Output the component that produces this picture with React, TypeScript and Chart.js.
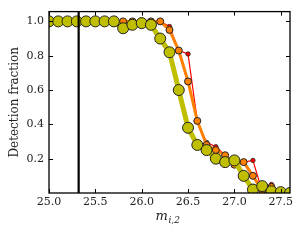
import { useEffect, useRef } from "react";
import { Chart, registerables } from "chart.js";

Chart.register(...registerables);

const MAGS = [
  25.0, 25.1, 25.2, 25.3, 25.4, 25.5, 25.6, 25.7, 25.8, 25.9, 26.0, 26.1, 26.2, 26.3,
  26.4, 26.5, 26.6, 26.7, 26.8, 26.9, 27.0, 27.1, 27.2, 27.3, 27.4, 27.5, 27.6,
];
const GREEN = [
  1, 1, 1, 1, 1, 1, 1, 1, 0.96, 0.98, 0.99, 0.98, 0.9, 0.82,
  0.6, 0.38, 0.28, 0.25, 0.2, 0.18, 0.19, 0.1, 0.02, 0.04, 0.01, 0.005, 0,
];
const ORANGE = [
  1, 1, 1, 1, 1, 1, 1, 1, 1, 1, 1, 1, 1, 0.95,
  0.83, 0.65, 0.42, 0.28, 0.25, 0.22, 0.165, 0.18, 0.1, 0.015, 0.035, 0, 0,
];
const RED = [
  1, 1, 1, 1, 1, 1, 1, 1, 1, 1, 1, 1, 1, 0.97,
  0.83, 0.81, 0.42, 0.295, 0.27, 0.22, 0.165, 0.18, 0.19, 0.01, 0.05, 0, 0,
];
const VLINE_X = 25.32;
const X_TICKS = [25.0, 25.5, 26.0, 26.5, 27.0, 27.5];
const Y_TICKS = [0.2, 0.4, 0.6, 0.8, 1.0];
const X_LABEL_MAIN = "m";
const X_LABEL_SUB = "i,2";
const Y_LABEL = "Detection fraction";

const SERIF = "'DejaVu Serif', serif";

const framePlugin = {
  id: "frameTicks",
  afterDatasetsDraw(chart: any) {
    const { ctx, chartArea, scales } = chart;
    const { left, right, top, bottom } = chartArea;
    ctx.save();
    ctx.strokeStyle = "#000";
    ctx.lineWidth = 1;
    const len = 4;
    ctx.beginPath();
    X_TICKS.forEach((v) => {
      const x = Math.round(scales.x.getPixelForValue(v)) + 0.5;
      ctx.moveTo(x, bottom);
      ctx.lineTo(x, bottom - len);
      ctx.moveTo(x, top);
      ctx.lineTo(x, top + len);
    });
    Y_TICKS.forEach((v) => {
      const y = Math.round(scales.y.getPixelForValue(v)) + 0.5;
      ctx.moveTo(left, y);
      ctx.lineTo(left + len, y);
      ctx.moveTo(right, y);
      ctx.lineTo(right - len, y);
    });
    ctx.stroke();
    ctx.lineWidth = 1.3;
    ctx.strokeRect(left, top, right - left, bottom - top);
    // x-axis title with subscript
    const cx = (left + right) / 2;
    ctx.fillStyle = "#222";
    ctx.textBaseline = "alphabetic";
    ctx.textAlign = "left";
    ctx.font = `italic 13px ${SERIF}`;
    const mW = ctx.measureText(X_LABEL_MAIN).width;
    ctx.font = `italic 9px ${SERIF}`;
    const sW = ctx.measureText(X_LABEL_SUB).width;
    const startX = cx - 2 - (mW + sW) / 2;
    ctx.font = `italic 13px ${SERIF}`;
    ctx.fillText(X_LABEL_MAIN, startX, 220);
    ctx.font = `italic 9px ${SERIF}`;
    ctx.fillText(X_LABEL_SUB, startX + mW + 0.5, 223);
    ctx.restore();
  },
};

export default function App() {
  const ref = useRef<HTMLCanvasElement | null>(null);
  useEffect(() => {
    if (!ref.current) return;
    const mk = (ys: number[]) => MAGS.map((x, i) => ({ x, y: ys[i] }));
    const chart = new Chart(ref.current, {
      type: "line",
      data: {
        datasets: [
          {
            data: [
              { x: VLINE_X, y: -0.1 },
              { x: VLINE_X, y: 1.2 },
            ],
            borderColor: "#000",
            borderWidth: 2.2,
            pointRadius: 0,
            order: 0,
            clip: 0,
          },
          {
            data: mk(GREEN),
            borderColor: "#bfbf00",
            borderWidth: 5,
            pointRadius: 5.5,
            pointBackgroundColor: "#bfbf00",
            pointBorderColor: "#222",
            pointBorderWidth: 1,
            order: 1,
            clip: 0,
          },
          {
            data: mk(ORANGE),
            borderColor: "#ff8000",
            borderWidth: 3,
            pointRadius: 3.5,
            pointBackgroundColor: "#ff8000",
            pointBorderColor: "#222",
            pointBorderWidth: 1,
            order: 2,
            clip: 0,
          },
          {
            data: mk(RED),
            borderColor: "#ff0000",
            borderWidth: 1.2,
            pointRadius: 2.2,
            pointBackgroundColor: "#ff0000",
            pointBorderColor: "#222",
            pointBorderWidth: 0.8,
            order: 3,
            clip: 0,
          },
        ] as any,
      },
      options: {
        responsive: false,
        animation: false,
        events: [],
        layout: { padding: { top: 10, right: 15, left: 0, bottom: 0 } },
        elements: { line: { tension: 0 } },
        plugins: { legend: { display: false }, tooltip: { enabled: false } },
        scales: {
          x: {
            type: "linear",
            min: 25,
            max: 27.6,
            grid: { display: false, drawTicks: false },
            border: { display: false },
            ticks: {
              font: { family: SERIF, size: 11 },
              color: "#222",
              padding: 3,
              maxRotation: 0,
              callback: (v: any) => Number(v).toFixed(1),
            },
            afterBuildTicks: (s: any) => {
              s.ticks = X_TICKS.map((value) => ({ value }));
            },
            afterFit: (s: any) => {
              s.height = 47;
            },
          },
          y: {
            type: "linear",
            min: 0,
            max: 1.057,
            grid: { display: false, drawTicks: false },
            border: { display: false },
            ticks: {
              font: { family: SERIF, size: 11 },
              color: "#222",
              padding: 5,
              callback: (v: any) => Number(v).toFixed(1),
            },
            title: {
              display: true,
              text: Y_LABEL,
              font: { family: SERIF, size: 12 },
              color: "#222",
              padding: { top: 8, bottom: 0 },
            },
            afterBuildTicks: (s: any) => {
              s.ticks = Y_TICKS.map((value) => ({ value }));
            },
            afterFit: (s: any) => {
              s.width = 49;
            },
          },
        },
      } as any,
      plugins: [framePlugin],
    });
    return () => chart.destroy();
  }, []);
  return (
    <div style={{ position: "fixed", left: 0, top: 0, width: 305, height: 240, background: "#fff" }}>
      <canvas ref={ref} width={305} height={240} style={{ width: 305, height: 240, display: "block" }} />
    </div>
  );
}
